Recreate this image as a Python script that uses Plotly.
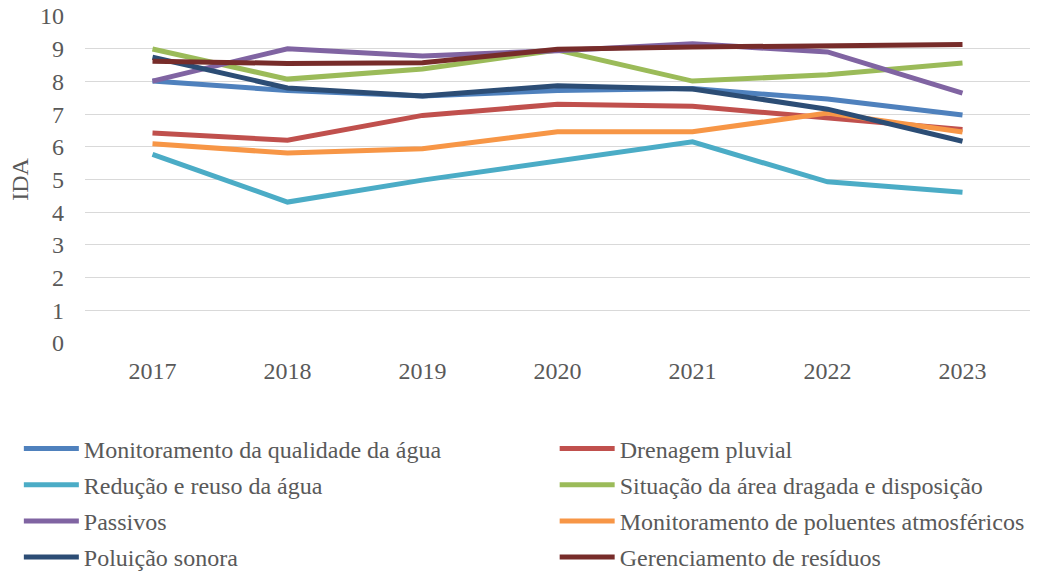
import plotly.graph_objects as go

years = ["2017", "2018", "2019", "2020", "2021", "2022", "2023"]

series_names = [
    "Monitoramento da qualidade da água",
    "Drenagem pluvial",
    "Redução e reuso da água",
    "Situação da área dragada e disposição",
    "Passivos",
    "Monitoramento de poluentes atmosféricos",
    "Poluição sonora",
    "Gerenciamento de resíduos",
]

qualidade_agua = [8.01, 7.72, 7.55, 7.72, 7.78, 7.46, 6.97]
drenagem = [6.42, 6.20, 6.96, 7.30, 7.24, 6.87, 6.53]
reducao_reuso = [5.77, 4.31, 4.98, 5.58, 6.15, 4.93, 4.61]
area_dragada = [8.99, 8.07, 8.38, 8.96, 8.01, 8.20, 8.56]
passivos = [8.01, 9.00, 8.78, 8.94, 9.15, 8.90, 7.64]
poluentes_atm = [6.09, 5.81, 5.94, 6.46, 6.46, 7.03, 6.45]
poluicao_sonora = [8.74, 7.80, 7.55, 7.87, 7.77, 7.15, 6.17]
residuos = [8.62, 8.55, 8.57, 8.98, 9.05, 9.08, 9.13]

values = [qualidade_agua, drenagem, reducao_reuso, area_dragada,
          passivos, poluentes_atm, poluicao_sonora, residuos]

colors = ["#4F81BD", "#C0504D", "#4BACC6", "#9BBB59",
          "#8064A2", "#F79646", "#2C4D75", "#772C2A"]

font_family = "Liberation Serif"
text_color = "#595959"
fsize = 24

fig = go.Figure()
for i, (name, vals, col) in enumerate(zip(series_names, values, colors)):
    # even-indexed series go in the left legend column, odd ones in the right
    fig.add_trace(go.Scatter(
        x=years, y=vals, name=name, mode="lines",
        line=dict(color=col, width=5),
        legend="legend" if i % 2 == 0 else "legend2",
        legendgroup=f"g{i}",
    ))

legend_common = dict(
    orientation="v", yanchor="top", xanchor="left",
    traceorder="grouped", tracegroupgap=2, itemwidth=55,
    font=dict(family=font_family, size=fsize, color=text_color),
    bgcolor="rgba(0,0,0,0)", borderwidth=0,
)

fig.update_layout(
    width=1045, height=575,
    margin=dict(l=85, r=15, t=16, b=232, autoexpand=False),
    paper_bgcolor="white", plot_bgcolor="white",
    font=dict(family=font_family, size=fsize, color=text_color),
    xaxis=dict(
        type="category", range=[-0.5, 6.5],
        showgrid=False, zeroline=False, showline=False,
        ticks="", ticklabelstandoff=11,
        tickfont=dict(family=font_family, size=fsize, color=text_color),
    ),
    yaxis=dict(
        range=[0, 10], dtick=1, tick0=0,
        showgrid=True, gridcolor="#D9D9D9", gridwidth=1.3,
        zeroline=False, showline=False, ticks="",
        ticklabelstandoff=20,
        title=dict(text="IDA", font=dict(family=font_family, size=fsize, color=text_color), standoff=4),
        tickfont=dict(family=font_family, size=fsize, color=text_color),
    ),
    legend=dict(x=-0.07, y=-0.255, **legend_common),
    legend2=dict(x=0.497, y=-0.255, **legend_common),
    showlegend=True,
)

fig.write_html("out.html")
